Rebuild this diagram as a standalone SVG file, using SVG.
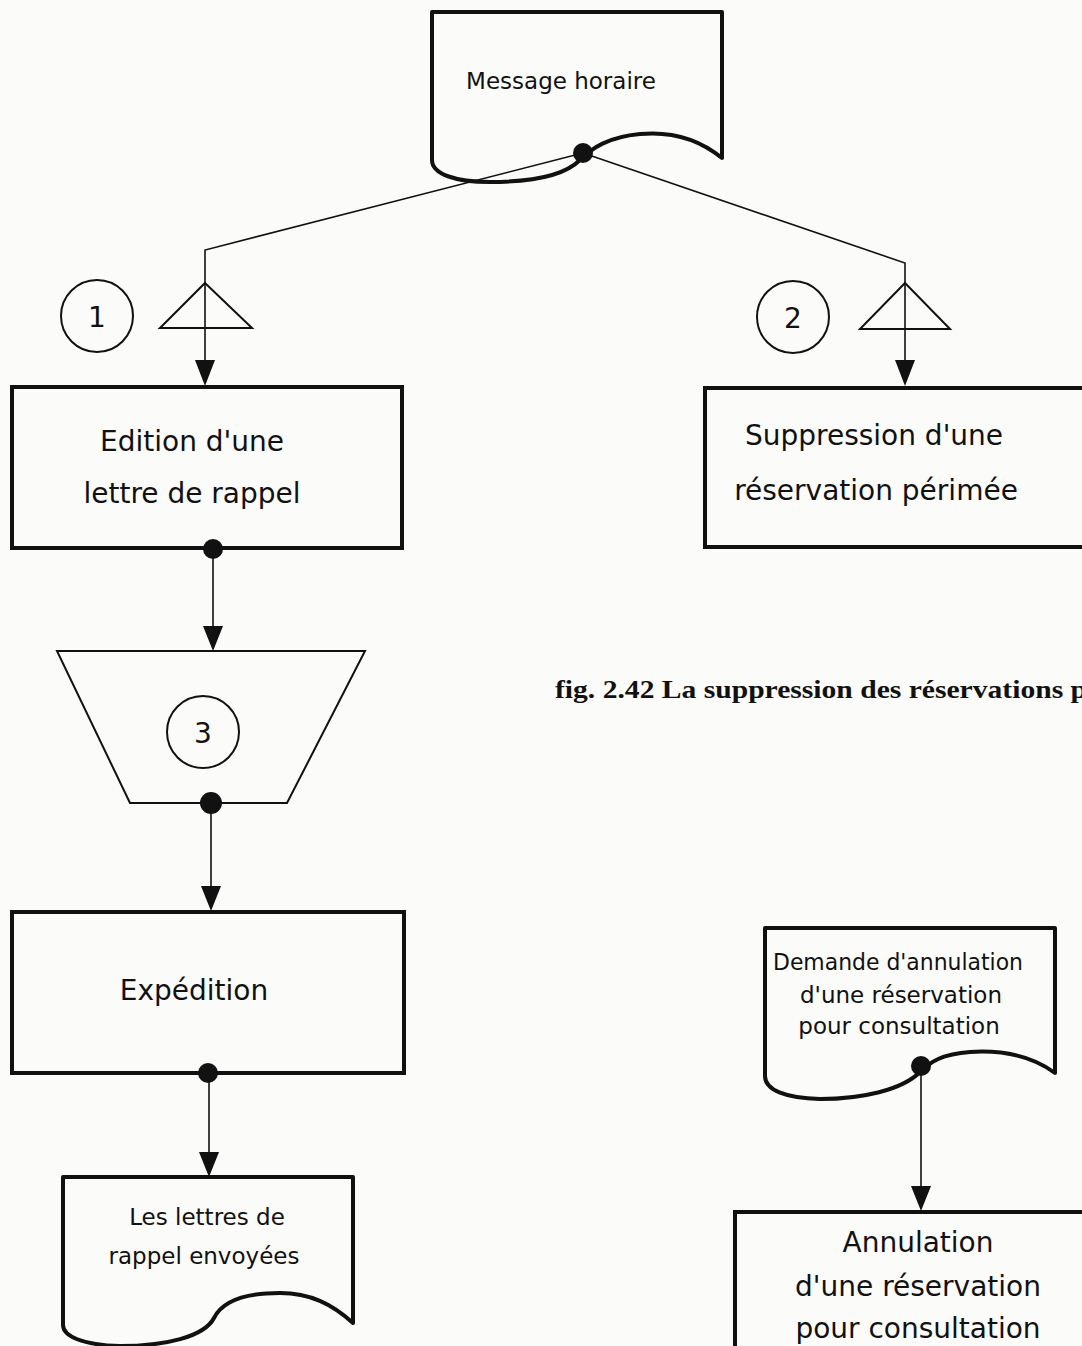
<svg xmlns="http://www.w3.org/2000/svg" width="1082" height="1346" viewBox="0 0 1082 1346">
<style>
.bg{fill:#fbfbf9}
.box{fill:none;stroke:#111;stroke-width:4}
.doc{fill:none;stroke:#111;stroke-width:4;stroke-linejoin:round}
.thin{fill:none;stroke:#111;stroke-width:2}
.conn{fill:none;stroke:#111;stroke-width:1.6}
.dot{fill:#111}
.t{font-family:"DejaVu Sans",sans-serif;fill:#111;text-anchor:middle}
.big{font-size:28px}
.small{font-size:23px}
.cap{font-family:"Liberation Serif",serif;font-weight:bold;font-size:25px;fill:#111}
</style>
<rect class="bg" x="0" y="0" width="1082" height="1346"/>

<g id="connectors">
<polyline class="conn" points="583,153 205,250 205,362"/>
<path d="M195,360 L215,360 L205,386 Z" class="dot"/>
<polyline class="conn" points="583,153 905,263 905,362"/>
<path d="M895,360 L915,360 L905,386 Z" class="dot"/>
<line class="conn" x1="213" y1="548" x2="213" y2="628"/>
<path d="M203,626 L223,626 L213,651 Z" class="dot"/>
<line class="conn" x1="211" y1="803" x2="211" y2="888"/>
<path d="M201,886 L221,886 L211,911 Z" class="dot"/>
<line class="conn" x1="209" y1="1073" x2="209" y2="1154"/>
<path d="M199,1152 L219,1152 L209,1177 Z" class="dot"/>
<line class="conn" x1="921" y1="1065" x2="921" y2="1188"/>
<path d="M911,1186 L931,1186 L921,1211 Z" class="dot"/>
</g>

<g id="message-horaire">
<path class="doc" d="M432,12 H722 V158 C700,140 672,131 640,134 C608,137 592,148 580,160 C562,178 525,182 490,182 C455,182 432,174 432,160 Z"/>
<text class="t small" x="561" y="89">Message horaire</text>
<circle class="dot" cx="583" cy="153" r="10"/>
</g>

<g id="trigger-1">
<circle class="thin" cx="97" cy="316" r="36"/>
<text class="t big" x="97" y="327">1</text>
<path class="thin" d="M205,283 L252,328 L160,328 Z"/>
</g>

<g id="trigger-2">
<circle class="thin" cx="793" cy="317" r="36"/>
<text class="t big" x="793" y="328">2</text>
<path class="thin" d="M905,283 L950,329 L860,329 Z"/>
</g>

<g id="edition">
<rect class="box" x="12" y="387" width="390" height="161"/>
<text class="t big" x="192" y="451">Edition d'une</text>
<text class="t big" x="192" y="503">lettre de rappel</text>
<circle class="dot" cx="213" cy="549" r="10"/>
</g>

<g id="suppression">
<rect class="box" x="705" y="388" width="390" height="159"/>
<text class="t big" x="874" y="445">Suppression d'une</text>
<text class="t big" x="876" y="500">réservation périmée</text>
</g>

<g id="operator-3">
<path class="thin" d="M57,651 L365,651 L287,803 L130,803 Z" stroke-width="2.5"/>
<circle class="thin" cx="203" cy="732" r="36"/>
<text class="t big" x="203" y="743">3</text>
<circle class="dot" cx="211" cy="803" r="11"/>
</g>

<g id="caption">
<text class="cap" x="555" y="698" textLength="532" lengthAdjust="spacingAndGlyphs">fig. 2.42  La suppression des réservations p</text>
</g>

<g id="expedition">
<rect class="box" x="12" y="912" width="392" height="161"/>
<text class="t big" x="194" y="1000">Expédition</text>
<circle class="dot" cx="208" cy="1073" r="10"/>
</g>

<g id="lettres-envoyees">
<path class="doc" d="M63,1177 H353 V1323 C332,1304 310,1293 280,1293 C243,1293 222,1302 214,1318 C204,1337 165,1346 120,1346 C82,1345 63,1336 63,1325 Z"/>
<text class="t small" x="207" y="1225">Les lettres de</text>
<text class="t small" x="204" y="1264">rappel envoyées</text>
</g>

<g id="demande-annulation">
<path class="doc" d="M765,928 H1055 V1073 C1032,1056 1002,1050 970,1052 C942,1054 930,1062 920,1072 C902,1090 862,1099 820,1099 C785,1098 765,1090 765,1076 Z"/>
<text class="t small" x="898" y="970" textLength="250" lengthAdjust="spacingAndGlyphs">Demande d'annulation</text>
<text class="t small" x="901" y="1003">d'une réservation</text>
<text class="t small" x="899" y="1034">pour consultation</text>
<circle class="dot" cx="921" cy="1066" r="10"/>
</g>

<g id="annulation">
<rect class="box" x="735" y="1212" width="360" height="150"/>
<text class="t big" x="918" y="1252">Annulation</text>
<text class="t big" x="918" y="1296">d'une réservation</text>
<text class="t big" x="918" y="1338">pour consultation</text>
</g>
</svg>
